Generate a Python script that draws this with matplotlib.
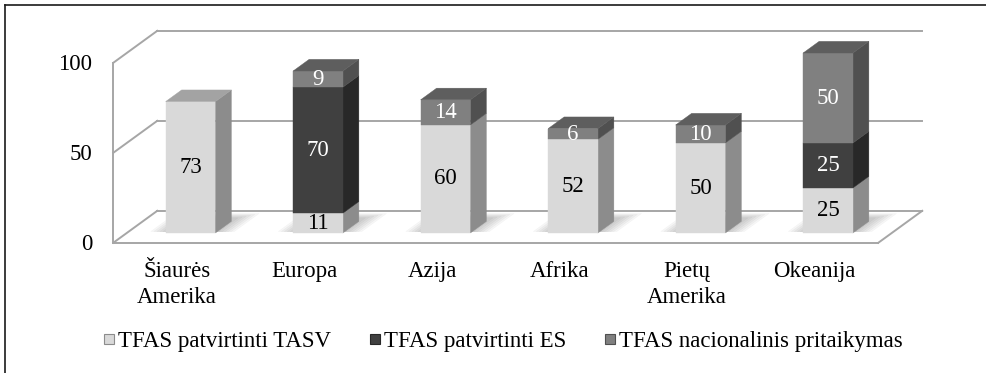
import matplotlib.pyplot as plt
from matplotlib.lines import Line2D

categories = ['Šiaurės\nAmerika', 'Europa', 'Azija', 'Afrika', 'Pietų\nAmerika', 'Okeanija']
tasv = [73, 11, 60, 52, 50, 25]
es = [0, 70, 0, 0, 0, 25]
national = [0, 9, 14, 6, 10, 50]
series_names = ['TFAS patvirtinti TASV', 'TFAS patvirtinti ES', 'TFAS nacionalinis pritaikymas']
y_ticks = [0, 50, 100]

# front / side / top shades for each series
shades = [('#d9d9d9', '#8c8c8c', '#a3a3a3'),
          ('#404040', '#282828', '#303030'),
          ('#808080', '#505050', '#5e5e5e')]
text_colors = ['black', 'white', 'white']

plt.rcParams['font.family'] = ['Liberation Serif', 'DejaVu Serif']
FS = 16.5

W, H = 987, 373
CAT_PX = 127.5      # pixels per category
VAL_PX = 1.8        # pixels per value unit
X0, Y0 = 190.5, 233  # pixel position of category 0, value 0 (bar plane)
SLOPE = 0.727       # depth rise per pixel of depth run
FRONT, BACK = -13.5, 30.5
BAR_DEPTH = 16
HALF_W = 0.195


def shift(x, y, d):
    return x + d / CAT_PX, y + SLOPE * d / VAL_PX


def poly(ax, pts, color, z):
    xs, ys = zip(*pts)
    ax.fill(xs, ys, facecolor=color, edgecolor=color, lw=0.3, zorder=z)


fig = plt.figure(figsize=(W / 100, H / 100), dpi=100)
ax = fig.add_axes([0, 0, 1, 1])
ax.set_xlim(-X0 / CAT_PX, (W - X0) / CAT_PX)
ax.set_ylim(-(H - Y0) / VAL_PX, Y0 / VAL_PX)
ax.axis('off')

# outer frame (only top and left edges fall inside the image)
fig.add_artist(Line2D([5 / W, 1], [1 - 5 / H, 1 - 5 / H], color='#1a1a1a', lw=1.2))
fig.add_artist(Line2D([5 / W, 5 / W], [0, 1 - 5 / H], color='#1a1a1a', lw=1.2))

left, right = -0.5, len(categories) - 0.5
grid_c = '#a6a6a6'

# floor
poly(ax, [shift(left, 0, FRONT), shift(right, 0, FRONT), shift(right, 0, BACK), shift(left, 0, BACK)], 'white', 1)
for a, b in [((left, FRONT), (right, FRONT)), ((right, FRONT), (right, BACK))]:
    p, q = shift(a[0], 0, a[1]), shift(b[0], 0, b[1])
    ax.plot([p[0], q[0]], [p[1], q[1]], color=grid_c, lw=1.4, zorder=1.5)

# back wall gridlines and side wall lines
for v in y_ticks:
    p, q = shift(left, v, BACK), shift(right, v, BACK)
    ax.plot([p[0], q[0]], [p[1], q[1]], color=grid_c, lw=1.4, zorder=1.5)
    f = shift(left, v, FRONT)
    ax.text(f[0] - 21 / CAT_PX, f[1] - 2 / VAL_PX, str(v), ha='right', va='center', fontsize=FS)
    ax.plot([f[0], p[0]], [f[1], p[1]], color=grid_c, lw=1.4, zorder=1.5)
p, q = shift(left, y_ticks[0], FRONT), shift(left, y_ticks[-1], FRONT)
ax.plot([p[0], q[0]], [p[1], q[1]], color=grid_c, lw=1.4, zorder=1.5)

# soft shadows behind bar footprints
for i in range(len(categories)):
    for k in range(6):
        g = 2 + 3 * k
        pts = [shift(i - HALF_W - g / CAT_PX, 0, 2), shift(i + HALF_W + g / CAT_PX, 0, 2),
               shift(i + HALF_W + g / CAT_PX, 0, BAR_DEPTH + 4 + g * 0.4),
               shift(i - HALF_W - g / CAT_PX, 0, BAR_DEPTH + 4 + g * 0.4)]
        poly(ax, pts, (0, 0, 0, 0.035), 2)

# stacked bars
for i, vals in enumerate(zip(tasv, es, national)):
    bottom = 0
    segs = [(s, v) for s, v in enumerate(vals) if v > 0]
    for n, (s, v) in enumerate(segs):
        front, side, top = shades[s]
        z = 3 + i * 0.1
        lo, hi = bottom, bottom + v
        poly(ax, [shift(i + HALF_W, lo, 0), shift(i + HALF_W, lo, BAR_DEPTH),
                  shift(i + HALF_W, hi, BAR_DEPTH), shift(i + HALF_W, hi, 0)], side, z)
        poly(ax, [(i - HALF_W, lo), (i + HALF_W, lo), (i + HALF_W, hi), (i - HALF_W, hi)], front, z + 0.01)
        if n == len(segs) - 1:
            poly(ax, [shift(i - HALF_W, hi, 0), shift(i + HALF_W, hi, 0),
                      shift(i + HALF_W, hi, BAR_DEPTH), shift(i - HALF_W, hi, BAR_DEPTH)], top, z + 0.02)
        ax.text(i, lo + v / 2, str(v), ha='center', va='center', fontsize=FS,
                color=text_colors[s], zorder=z + 0.05)
        bottom = hi

# category labels
for i, name in enumerate(categories):
    x, _ = shift(i, 0, FRONT)
    ax.text(x, (Y0 - 261) / VAL_PX, name, ha='center', va='top', fontsize=FS, linespacing=1.33)

handles = [Line2D([], [], ls='none', marker='s', markersize=6.5, markerfacecolor=shades[s][0],
                  markeredgecolor=shades[s][1], markeredgewidth=0.8) for s in range(3)]
fig.legend(handles, series_names, loc='center', bbox_to_anchor=(503 / W, 1 - 341 / H), ncol=3,
           frameon=False, fontsize=FS, handlelength=0.5, handletextpad=0.15, columnspacing=1.65,
           borderpad=0, borderaxespad=0)

fig.savefig('out.png', dpi=100, facecolor='white')
